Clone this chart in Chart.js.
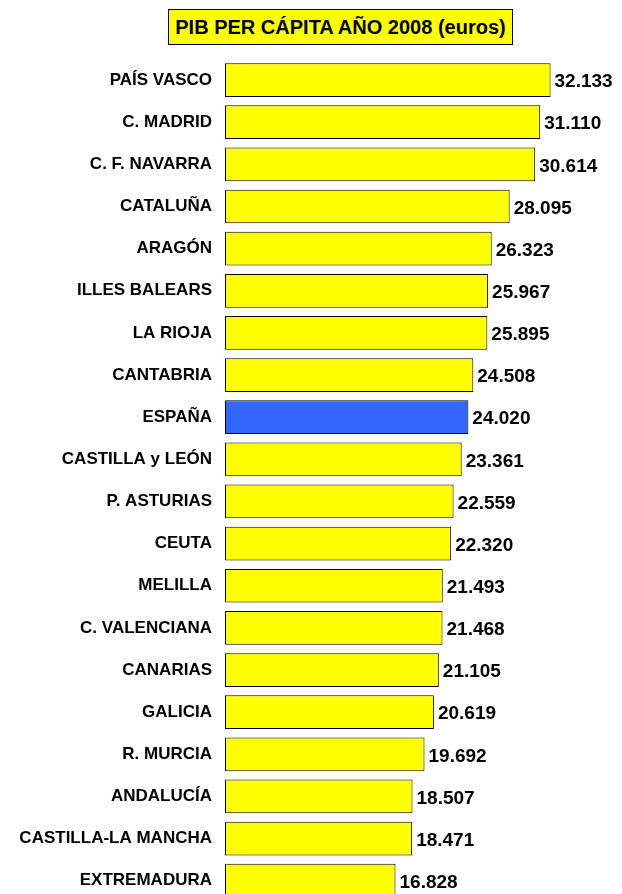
<!DOCTYPE html>
<html>
<head>
<meta charset="utf-8">
<script src="https://cdn.jsdelivr.net/npm/chart.js@4/dist/chart.umd.min.js"></script>
<style>
  html, body { margin: 0; padding: 0; background: #fff; overflow: hidden; }
  #wrap { position: relative; width: 622px; height: 925px; }
  #title {
    position: absolute; left: 168px; top: 9px; width: 343px; height: 34px;
    background: #ffff00; border: 1px solid #000; box-sizing: content-box;
    font: bold 20px "Liberation Sans", Arial, sans-serif; color: #000;
    display: flex; align-items: center; justify-content: center; z-index: 2;
    white-space: nowrap;
  }
  #cv { position: absolute; left: 0; top: 0; }
</style>
</head>
<body>
<div id="wrap">
  <div id="title">PIB PER CÁPITA AÑO 2008 (euros)</div>
  <canvas id="cv" width="622" height="925"></canvas>
</div>
<script>
const regions = ["PAÍS VASCO","C. MADRID","C. F. NAVARRA","CATALUÑA","ARAGÓN","ILLES BALEARS","LA RIOJA","CANTABRIA","ESPAÑA","CASTILLA y LEÓN","P. ASTURIAS","CEUTA","MELILLA","C. VALENCIANA","CANARIAS","GALICIA","R. MURCIA","ANDALUCÍA","CASTILLA-LA MANCHA","EXTREMADURA"];
const pibPerCapita = [32133,31110,30614,28095,26323,25967,25895,24508,24020,23361,22559,22320,21493,21468,21105,20619,19692,18507,18471,16828];
const highlightRegion = "ESPAÑA";

function fmt(v) {
  return String(v).replace(/\B(?=(\d{3})+(?!\d))/g, ".");
}

const barColors = regions.map(r => r === highlightRegion ? "#3366ff" : "#ffff00");

const valueLabels = {
  id: "valueLabels",
  afterDatasetsDraw(chart) {
    const ctx = chart.ctx;
    const meta = chart.getDatasetMeta(0);
    ctx.save();
    ctx.font = "bold 19px 'Liberation Sans', Arial, sans-serif";
    ctx.fillStyle = "#000";
    ctx.textAlign = "left";
    ctx.textBaseline = "middle";
    meta.data.forEach((el, i) => {
      ctx.fillText(fmt(chart.data.datasets[0].data[i]), el.x + 4, el.y + 2);
    });
    ctx.restore();
  }
};

const chart = new Chart(document.getElementById("cv"), {
  type: "bar",
  data: {
    labels: regions,
    datasets: [{
      data: pibPerCapita,
      backgroundColor: barColors,
      borderColor: "#000",
      borderWidth: 1,
      borderSkipped: false,
      barPercentage: 0.8,
      categoryPercentage: 1.0
    }]
  },
  options: {
    indexAxis: "y",
    responsive: false,
    animation: false,
    layout: { padding: { left: 0, right: 12, top: 59, bottom: 3 } },
    plugins: {
      legend: { display: false },
      title: { display: false },
      tooltip: { enabled: false }
    },
    scales: {
      x: {
        display: false,
        min: 0,
        max: 38000
      },
      y: {
        grid: { display: false, drawTicks: false },
        border: { display: false },
        ticks: {
          padding: 13,
          color: "#000",
          font: { family: "'Liberation Sans', Arial, sans-serif", size: 17, weight: "bold" },
          autoSkip: false
        },
        afterFit(scale) { scale.width = 225; }
      }
    }
  },
  plugins: [valueLabels]
});
</script>
</body>
</html>
